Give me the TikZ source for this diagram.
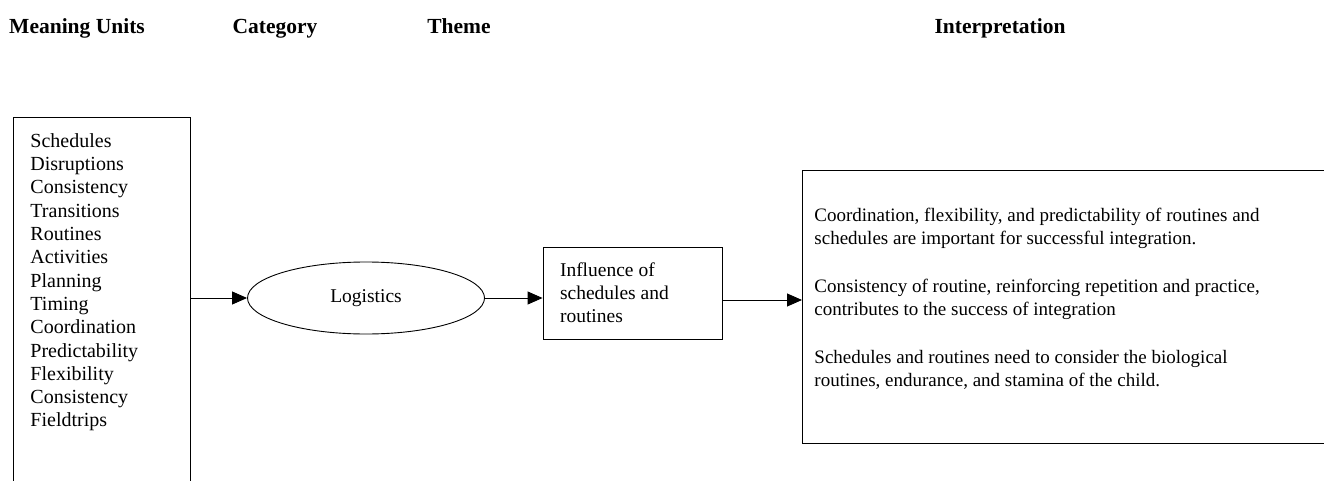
\documentclass[tikz,border=0pt]{standalone}
\usepackage{fontspec}
\setmainfont{Liberation Serif}
\usetikzlibrary{shapes.geometric, arrows.meta, calc}

\begin{document}
\begin{tikzpicture}[
	x=1pt, y=-1pt,
	>={Triangle[length=15pt, width=13pt]},
	line width=0.9pt,
	% Styles for the headings, the boxes and the arrows
	heading/.style={font=\fontsize{21.5}{24}\selectfont\bfseries, inner sep=0pt, anchor=base},
	openbox/.style={draw, rectangle, inner sep=0pt},
	bodytext/.style={font=\fontsize{19.5}{23}\selectfont, align=flush left, inner sep=0pt},
	flow/.style={->, line width=0.9pt}
	]
	
	% Page frame (also cuts off the open box edges)
	\clip (0,0) rectangle (1324,481);
	
	% ==========================================
	% 1. COLUMN HEADINGS
	% ==========================================
	\node[heading] (hunits) at (77,34) {Meaning Units};
	\node[heading] (hcategory) at (275,34) {Category};
	\node[heading] (htheme) at (459,34) {Theme};
	\node[heading] (hinterp) at (1000,34) {Interpretation};
	
	% ==========================================
	% 2. MEANING UNITS (box runs off the bottom)
	% ==========================================
	\node[openbox, anchor=north west, minimum width=177pt, minimum height=420pt] (units) at (13,117) {};
	\node[bodytext, anchor=north west, font=\fontsize{20}{23.3}\selectfont] (unitlist) at (30,133) {Schedules\\
		Disruptions\\
		Consistency\\
		Transitions\\
		Routines\\
		Activities\\
		Planning\\
		Timing\\
		Coordination\\
		Predictability\\
		Flexibility\\
		Consistency\\
		Fieldtrips};
	
	% ==========================================
	% 3. CATEGORY AND THEME
	% ==========================================
	\node[draw, ellipse, bodytext, minimum width=237pt, minimum height=72pt] (logistics) at (366,298) {Logistics};
	
	\node[draw, bodytext, text width=145pt, inner xsep=17pt, minimum height=92pt] (theme) at (632.5,293) {Influence of\\schedules and\\routines};
	
	% ==========================================
	% 4. INTERPRETATION (box runs off the right)
	% ==========================================
	\node[openbox, anchor=north west, minimum width=560pt, minimum height=273pt] (interp) at (802,170) {};
	\node[bodytext, anchor=north west, font=\fontsize{19}{23}\selectfont] (interptext) at (814,208) {Coordination, flexibility, and predictability of routines and\\
		schedules are important for successful integration.\\[25pt]
		Consistency of routine, reinforcing repetition and practice,\\
		contributes to the success of integration\\[25pt]
		Schedules and routines need to consider the biological\\
		routines, endurance, and stamina of the child.};
	
	% Arrows between the columns
	\coordinate (themeout) at ($(theme.east)+(0,7)$);
	\draw[flow] (units.east |- logistics.west) -- (logistics.west);
	\draw[flow] (logistics.east) -- (logistics.east -| theme.west);
	\draw[flow] (themeout) -- (themeout -| interp.west);
	
\end{tikzpicture}
\end{document}
